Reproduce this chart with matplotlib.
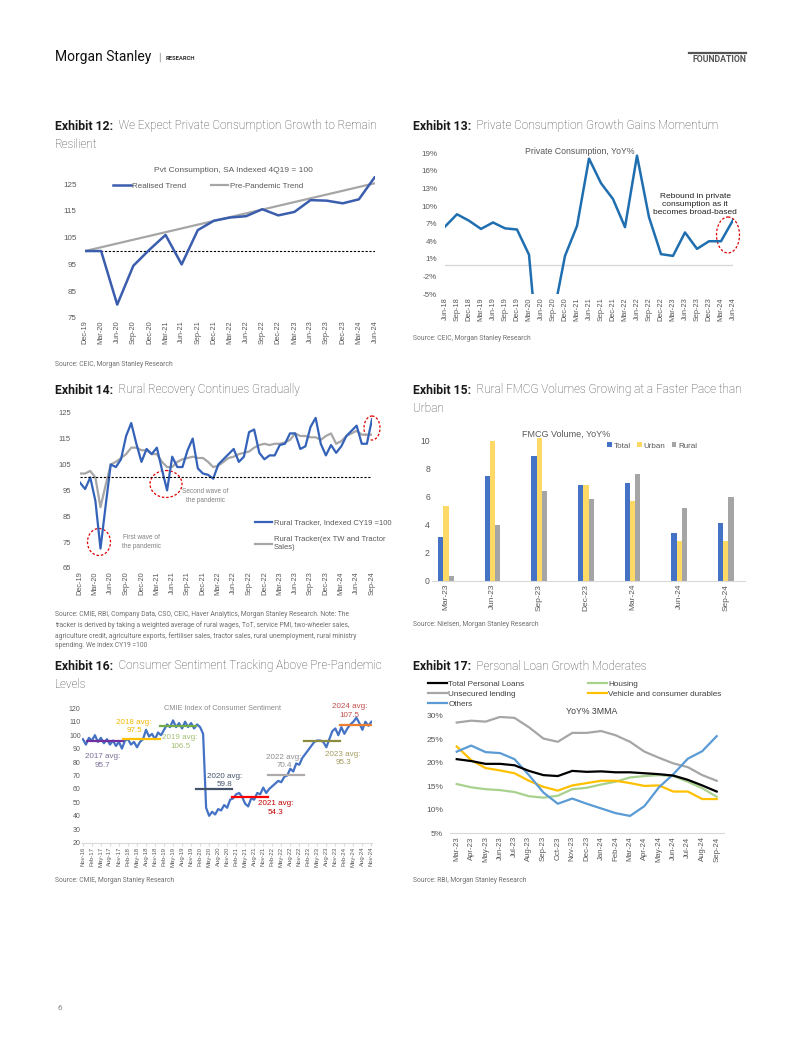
import matplotlib
matplotlib.use("Agg")
import matplotlib.pyplot as plt
from matplotlib.patches import Ellipse

W, H = 802, 1037

# ---------------- data ----------------
# Exhibit 12: private consumption, SA indexed 4Q19 = 100
q12_labels = ['Dec-19', 'Mar-20', 'Jun-20', 'Sep-20', 'Dec-20', 'Mar-21', 'Jun-21', 'Sep-21',
              'Dec-21', 'Mar-22', 'Jun-22', 'Sep-22', 'Dec-22', 'Mar-23', 'Jun-23', 'Sep-23',
              'Dec-23', 'Mar-24', 'Jun-24']
realised = [100, 100, 80, 94.5, 100.5, 106, 95, 107.8, 111.3, 112.5, 113, 115.6, 113.3,
            114.6, 119, 118.8, 117.8, 119.3, 127.7]
trend_idx = [0, 18]
trend_vals = [100, 125.3]

# Exhibit 13: private consumption YoY%
q13_labels = ['Jun-18', 'Sep-18', 'Dec-18', 'Mar-19', 'Jun-19', 'Sep-19', 'Dec-19', 'Mar-20',
              'Jun-20', 'Sep-20', 'Dec-20', 'Mar-21', 'Jun-21', 'Sep-21', 'Dec-21', 'Mar-22',
              'Jun-22', 'Sep-22', 'Dec-22', 'Mar-23', 'Jun-23', 'Sep-23', 'Dec-23', 'Mar-24',
              'Jun-24']
pc_yoy = [6.5, 8.6, 7.5, 6.1, 7.2, 6.2, 6.0, 1.7, -21, -9, 1.5, 6.6, 18.1, 13.9, 11.2, 6.4,
          18.6, 8.1, 1.8, 1.5, 5.5, 2.7, 4.0, 4.0, 7.6]

# Exhibit 14: rural tracker, monthly Dec-19 .. Sep-24
m14_labels = ['Dec-19', 'Mar-20', 'Jun-20', 'Sep-20', 'Dec-20', 'Mar-21', 'Jun-21', 'Sep-21',
              'Dec-21', 'Mar-22', 'Jun-22', 'Sep-22', 'Dec-22', 'Mar-23', 'Jun-23', 'Sep-23',
              'Dec-23', 'Mar-24', 'Jun-24', 'Sep-24']
rural = [98,
         95.5, 100, 91, 72.5, 89, 105, 104, 107, 116, 121, 113, 106,
         111, 109, 111.5, 103, 95, 108, 104, 104, 110.5, 115, 103.5, 101.5,
         101, 99.5, 105, 107, 109, 111, 106, 108, 117.5, 118.5, 109.5, 107,
         108.5, 108.5, 112.5, 113, 117, 117, 111, 112, 119.5, 123, 113, 108.5,
         112.5, 109.5, 112, 116, 118, 120, 113, 113, 122.5]
rural_ex = [101.5,
            101.5, 102.5, 100, 88.5, 97, 105, 106, 107.5, 109, 111.5, 111.5, 110.5,
            110.5, 109, 109, 106, 104, 104, 106, 107, 107.5, 108, 107.5, 107.5,
            106, 104, 104.5, 106, 107.5, 108, 109, 109.5, 110, 111.5, 112.5, 113,
            112.5, 113, 113, 113.5, 114.5, 117, 116, 116, 115.5, 115.5, 114.5, 116,
            117, 113, 114, 116, 117, 118, 116.5, 116.5, 116.5]

# Exhibit 15: FMCG volume YoY%
q15_labels = ['Mar-23', 'Jun-23', 'Sep-23', 'Dec-23', 'Mar-24', 'Jun-24', 'Sep-24']
fmcg_total = [3.1, 7.5, 8.9, 6.8, 7.0, 3.4, 4.1]
fmcg_urban = [5.3, 10.0, 10.2, 6.8, 5.7, 2.8, 2.8]
fmcg_rural = [0.3, 4.0, 6.4, 5.8, 7.6, 5.2, 6.0]

# Exhibit 16: CMIE consumer sentiment, monthly Nov-16 .. Nov-24
m16_labels = ['Nov-16', 'Feb-17', 'May-17', 'Aug-17', 'Nov-17', 'Feb-18', 'May-18', 'Aug-18',
              'Nov-18', 'Feb-19', 'May-19', 'Aug-19', 'Nov-19', 'Feb-20', 'May-20', 'Aug-20',
              'Nov-20', 'Feb-21', 'May-21', 'Aug-21', 'Nov-21', 'Feb-22', 'May-22', 'Aug-22',
              'Nov-22', 'Feb-23', 'May-23', 'Aug-23', 'Nov-23', 'Feb-24', 'May-24', 'Aug-24',
              'Nov-24']
sentiment = [97, 93,
             98, 96, 100, 95, 98, 94, 97, 93, 96, 92, 95, 90,
             96, 97, 93, 95, 91, 95, 97, 104, 99, 101, 97, 102,
             100, 104, 108, 106, 111, 106, 109, 105, 110, 106, 109, 105,
             108, 106, 101, 46, 40, 43, 41, 45, 44, 48, 46, 52,
             53, 56, 57, 54, 49, 47, 53, 52, 57, 56, 61, 57,
             60, 62, 64, 66, 65, 69, 70, 75, 73, 79, 78, 83,
             86, 89, 92, 95, 96, 96, 95, 91, 97, 103, 105, 100,
             106, 101, 105, 108, 110, 113, 109, 104, 110, 107, 110]
avg_years = [2017, 2018, 2019, 2020, 2021, 2022, 2023, 2024]
avg_vals = [95.7, 97.5, 106.5, 59.8, 54.3, 70.4, 95.3, 107.5]
avg_line_colors = ['#7030A0', '#FFC000', '#70AD47', '#44546A', '#FF0000', '#AEAAAA', '#8C8A3C', '#ED7D31']
avg_text_colors = ['#7A6E95', '#F2B600', '#A3BF72', '#44546A', '#C00000', '#8C8C8C', '#A59B5F', '#C0504D']
avg_text_pos = [(6.6, 80.7), (17, 106.5), (32.3, 95), (47.1, 66.4), (64.1, 45.9),
                (66.9, 80.3), (86.6, 82.4), (88.8, 118)]

# Exhibit 17: personal loan growth YoY% 3MMA
m17_labels = ['Mar-23', 'Apr-23', 'May-23', 'Jun-23', 'Jul-23', 'Aug-23', 'Sep-23', 'Oct-23',
              'Nov-23', 'Dec-23', 'Jan-24', 'Feb-24', 'Mar-24', 'Apr-24', 'May-24', 'Jun-24',
              'Jul-24', 'Aug-24', 'Sep-24']
loans_total = [20.8, 20.4, 19.8, 19.8, 19.5, 18.3, 17.4, 17.2, 18.3, 18.1, 18.2, 18.0, 18.0,
               17.8, 17.6, 17.3, 16.4, 15.2, 13.9]
loans_housing = [15.5, 14.8, 14.4, 14.2, 13.8, 12.9, 12.6, 13.0, 14.4, 14.7, 15.4, 16.0, 16.9,
                 17.2, 17.4, 17.2, 16.0, 14.6, 12.8]
loans_unsecured = [28.6, 29.0, 28.8, 29.8, 29.6, 27.6, 25.2, 24.5, 26.4, 26.4, 26.8, 25.9, 24.5,
                   22.4, 21.1, 19.9, 19.1, 17.4, 16.2]
loans_vehicle = [23.5, 20.6, 18.9, 18.4, 17.8, 16.2, 14.9, 14.1, 15.2, 15.7, 16.2, 16.2, 15.7,
                 15.1, 15.2, 13.9, 13.9, 12.3, 12.3]
loans_others = [22.4, 23.7, 22.3, 22.1, 20.8, 17.4, 13.7, 11.3, 12.4, 11.3, 10.3, 9.3, 8.7,
                10.8, 14.8, 17.6, 20.9, 22.5, 25.7]

# ---------------- page ----------------
plt.rcParams['font.family'] = 'Liberation Sans'
TXT = 'Roboto'
TICK = '#595959'
SRC = '#707070'

fig = plt.figure(figsize=(W / 100, H / 100), dpi=100)


def box(l, t, r, b):
    return [l / W, 1 - b / H, (r - l) / W, (b - t) / H]


def fp(x, y):
    return (x / W, 1 - y / H)


bg = fig.add_axes([0, 0, 1, 1], zorder=-1)
bg.set_xlim(0, W)
bg.set_ylim(H, 0)
bg.axis('off')


def style(ax, ypad, xpad, ysize=5.8, xsize=5.3):
    for s in ax.spines.values():
        s.set_visible(False)
    ax.tick_params(axis='y', length=0, pad=ypad, labelsize=ysize, labelcolor=TICK)
    ax.tick_params(axis='x', length=0, pad=xpad, labelsize=xsize, labelcolor=TICK, labelrotation=90)
    ax.set_facecolor('none')


def exhibit(x, y, num, lines):
    t = bg.text(x, y, f'Exhibit {num}:', family=TXT, fontsize=8.8, fontweight='bold',
                color='#1a1a1a', va='center')
    bg.annotate('  ' + lines[0], xy=(1, 0.5), xycoords=t, va='center', ha='left', family=TXT,
                fontsize=8.45, fontweight='light', color='#444444')
    if len(lines) > 1:
        bg.text(x, y + 18.5, lines[1], family=TXT, fontsize=8.45, fontweight='light',
                color='#444444', va='center')


def source(x, y, text):
    bg.text(x, y, text, family=TXT, fontsize=4.9, color=SRC, va='center', linespacing=1.55)


def chart_title(x, y, text, size=6.0, color='#595959'):
    bg.text(x, y, text, fontsize=size, color=color, ha='center', va='center')


# header
bg.text(55, 57, 'Morgan Stanley', family=TXT, fontsize=10, color='#111111', va='center')
bg.text(158, 57.5, '|', family=TXT, fontsize=7, color='#888888', va='center')
bg.text(166, 58, 'RESEARCH', family=TXT, fontsize=4.2, fontweight='bold', color='#333333', va='center')
bg.plot([689, 746], [52.5, 52.5], color='#555555', lw=1.6)
bg.text(746, 59, 'FOUNDATION', family=TXT, fontsize=6.3, fontweight='bold', color='#555555',
        ha='right', va='center')
bg.text(58, 1008, '6', family=TXT, fontsize=6, color='#888888', va='center')

# ---------------- Exhibit 12 ----------------
exhibit(55, 126, 12, ['We Expect Private Consumption Growth to Remain', 'Resilient'])
chart_title(233, 170.5, 'Pvt Consumption, SA Indexed 4Q19 = 100')
ax = fig.add_axes(box(85, 176, 375, 318))
x12 = list(range(len(q12_labels)))
ax.plot(x12, realised, color='#3A5DAE', lw=1.8, label='Realised Trend', zorder=3)
ax.plot(trend_idx, trend_vals, color='#A6A6A6', lw=1.6, label='Pre-Pandemic Trend', zorder=2)
ax.plot([x12[0], x12[-1]], [100, 100], color='black', lw=0.8, ls=(0, (2, 1.5)), zorder=1)
ax.set_xlim(0, len(q12_labels) - 1)
ax.set_ylim(75, 128)
ax.set_yticks(range(75, 126, 10))
ax.set_xticks(x12, q12_labels)
style(ax, 6, 1.8)
h, l = ax.get_legend_handles_labels()
fig.legend(h, l, loc='center left', bbox_to_anchor=fp(113, 186), ncol=2, frameon=False,
           fontsize=5.8, labelcolor=TICK, handlelength=2.2, handletextpad=0.2,
           columnspacing=3.0, borderpad=0, borderaxespad=0)
source(55, 364, 'Source: CEIC, Morgan Stanley Research')

# ---------------- Exhibit 13 ----------------
exhibit(413, 126, 13, ['Private Consumption Growth Gains Momentum'])
chart_title(580, 151.5, 'Private Consumption, YoY%', size=6.3)
ax = fig.add_axes(box(445, 153.3, 733, 294))
x13 = list(range(len(q13_labels)))
ax.axhline(0, color='#D9D9D9', lw=1)
ax.plot(x13, pc_yoy, color='#1F6FB0', lw=1.8)
ax.set_xlim(0, len(q13_labels) - 1)
ax.set_ylim(-5, 19)
ax.set_yticks(range(-5, 20, 3))
ax.set_yticklabels([f'{v}%' for v in range(-5, 20, 3)])
ax.set_xticks(x13, q13_labels)
style(ax, 5.5, 2.2)
bg.text(695, 204, 'Rebound in private\nconsumption as it\nbecomes broad-based', fontsize=6.0,
        color='#222222', ha='center', va='center', linespacing=1.2)
bg.add_patch(Ellipse((728, 235), 23, 36, fill=False, ec='#E00000', lw=0.9, ls=(0, (2, 1.5))))
source(413, 338, 'Source: CEIC, Morgan Stanley Research')

# ---------------- Exhibit 14 ----------------
exhibit(55, 390, 14, ['Rural Recovery Continues Gradually'])
ax = fig.add_axes(box(80, 412.7, 372, 568))
x14 = list(range(len(rural)))
ax.plot(x14, rural_ex, color='#A6A6A6', lw=1.6, label='Rural Tracker(ex TW and Tractor\nSales)')
ax.plot(x14, rural, color='#3462B8', lw=1.6, label='Rural Tracker, Indexed CY19 =100')
ax.plot([x14[0], x14[-1]], [100, 100], color='black', lw=0.8, ls=(0, (2, 1.5)))
ax.set_xlim(0, len(rural) - 1)
ax.set_ylim(65, 125)
ax.set_yticks(range(65, 126, 10))
ax.set_xticks(x14[::3], m14_labels)
style(ax, 6.5, 2.2, ysize=5.5)
h, l = ax.get_legend_handles_labels()
fig.legend(h[::-1], l[::-1], loc='upper left', bbox_to_anchor=fp(255, 519), frameon=False,
           fontsize=5.5, labelcolor=TICK, handlelength=2.2, handletextpad=0.25,
           labelspacing=1.3, borderpad=0, borderaxespad=0)
for (cx, cy, ew, eh) in [(99, 542, 23, 27), (166, 484, 32, 27), (372, 428, 16, 24)]:
    bg.add_patch(Ellipse((cx, cy), ew, eh, fill=False, ec='#E00000', lw=0.9, ls=(0, (2, 1.5))))
bg.text(141, 542, 'First wave of\nthe pandemic', fontsize=4.7, color='#808080', ha='center',
        va='center', linespacing=1.3)
bg.text(205, 496, 'Second wave of\nthe pandemic', fontsize=4.7, color='#808080', ha='center',
        va='center', linespacing=1.3)
source(55, 630, 'Source: CMIE, RBI, Company Data, CSO, CEIC, Haver Analytics, Morgan Stanley Research. Note: The\n'
                'tracker is derived by taking a weighted average of rural wages, ToT, service PMI, two-wheeler sales,\n'
                'agriculture credit, agriculture exports, fertiliser sales, tractor sales, rural unemployment, rural ministry\n'
                'spending. We index CY19 =100')

# ---------------- Exhibit 15 ----------------
exhibit(413, 390, 15, ['Rural FMCG Volumes Growing at a Faster Pace than', 'Urban'])
chart_title(566, 434, 'FMCG Volume, YoY%', size=6.5)
ax = fig.add_axes(box(432, 435, 745, 580.7))
x15 = list(range(len(q15_labels)))
bw = 0.112
ax.bar([i - bw for i in x15], fmcg_total, bw, color='#4472C4', label='Total')
ax.bar(x15, fmcg_urban, bw, color='#FFD966', label='Urban')
ax.bar([i + bw for i in x15], fmcg_rural, bw, color='#A5A5A5', label='Rural')
ax.set_xlim(-0.3, 6.41)
ax.set_ylim(0, 10.4)
ax.set_yticks(range(0, 11, 2))
ax.set_xticks(x15, q15_labels)
style(ax, 1.5, 2.2, ysize=6.2, xsize=6.0)
ax.spines['bottom'].set_visible(True)
ax.spines['bottom'].set_color('#D9D9D9')
h, l = ax.get_legend_handles_labels()
fig.legend(h, l, loc='center left', bbox_to_anchor=fp(607, 446), ncol=3, frameon=False,
           fontsize=5.8, labelcolor=TICK, handlelength=0.6, handleheight=0.6,
           handletextpad=0.2, columnspacing=0.8, borderpad=0, borderaxespad=0)
source(413, 624, 'Source: Nielsen, Morgan Stanley Research')

# ---------------- Exhibit 16 ----------------
exhibit(55, 666, 16, ['Consumer Sentiment Tracking Above Pre-Pandemic', 'Levels'])
chart_title(222, 708, 'CMIE Index of Consumer Sentiment', size=5.3, color='#8C8C8C')
ax = fig.add_axes(box(82, 708.3, 372, 842.7))
x16 = list(range(len(sentiment)))
ax.plot(x16, sentiment, color='#4472C4', lw=1.6, zorder=2)
for yr, v, lc, tc, (tx, ty) in zip(avg_years, avg_vals, avg_line_colors, avg_text_colors, avg_text_pos):
    start = (yr - 2017) * 12 + 2
    end = min(start + 11, len(sentiment) - 1)
    ax.plot([start - 0.5, end + 0.5], [v, v], color=lc, lw=1.6, zorder=3)
    ax.text(tx, ty, f'{yr} avg:\n{v}', color=tc, fontsize=5.8, ha='center', va='center',
            linespacing=1.25, zorder=4)
ax.set_xlim(-0.3, len(sentiment) - 0.8)
ax.set_ylim(20, 120)
ax.set_yticks(range(20, 121, 10))
ax.set_xticks(x16[::3], m16_labels)
style(ax, 1, 1.0, ysize=5.0, xsize=4.3)
ax.spines['bottom'].set_visible(True)
ax.spines['bottom'].set_color('#D9D9D9')
ax.tick_params(axis='x', length=2, color='#D9D9D9')
source(55, 880, 'Source: CMIE, Morgan Stanley Research')

# ---------------- Exhibit 17 ----------------
exhibit(413, 666, 17, ['Personal Loan Growth Moderates'])
ax = fig.add_axes(box(449.5, 716, 723.9, 833.3))
x17 = list(range(len(m17_labels)))
l_tot, = ax.plot(x17, loans_total, color='black', lw=1.6, label='Total Personal Loans', zorder=5)
l_hou, = ax.plot(x17, loans_housing, color='#A9D18E', lw=1.6, label='Housing')
l_uns, = ax.plot(x17, loans_unsecured, color='#A6A6A6', lw=1.6, label='Unsecured lending')
l_veh, = ax.plot(x17, loans_vehicle, color='#FFC000', lw=1.6, label='Vehicle and consumer durables')
l_oth, = ax.plot(x17, loans_others, color='#5B9BD5', lw=1.6, label='Others')
ax.set_xlim(-0.5, len(m17_labels) - 0.5)
ax.set_ylim(5, 30)
ax.set_yticks(range(5, 31, 5))
ax.set_yticklabels([f'{v}%' for v in range(5, 31, 5)])
ax.set_xticks(x17, m17_labels)
style(ax, 4.5, 2.2, ysize=6.0, xsize=5.6)
ax.spines['bottom'].set_visible(True)
ax.spines['bottom'].set_color('#D9D9D9')
leg_kw = dict(loc='upper left', frameon=False, fontsize=5.9, labelcolor='#404040',
              handlelength=2.3, handletextpad=0.2, labelspacing=0.3, borderpad=0, borderaxespad=0)
fig.legend([l_tot, l_uns, l_oth], [l_tot.get_label(), l_uns.get_label(), l_oth.get_label()],
           bbox_to_anchor=fp(428, 680), **leg_kw)
fig.legend([l_hou, l_veh], [l_hou.get_label(), l_veh.get_label()],
           bbox_to_anchor=fp(588, 680), **leg_kw)
chart_title(592, 711, 'YoY% 3MMA', size=6.3, color='#404040')
source(413, 880, 'Source: RBI, Morgan Stanley Research')

fig.savefig('out.png', dpi=100, facecolor='white')
